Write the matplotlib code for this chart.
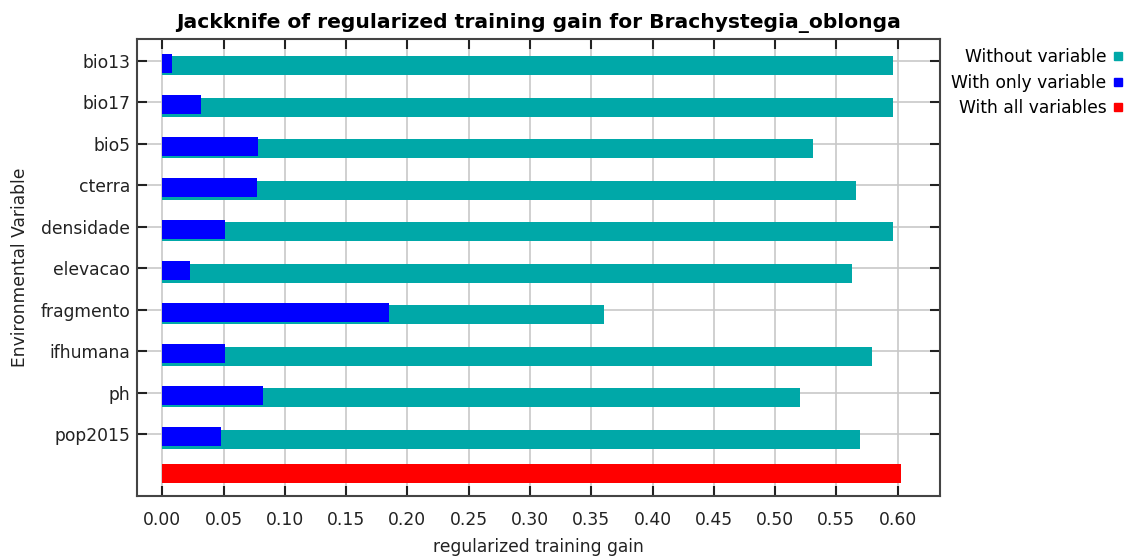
import matplotlib
matplotlib.use("Agg")
import matplotlib.pyplot as plt
from matplotlib.lines import Line2D
import numpy as np

plt.rcParams['font.family'] = ['DejaVu Sans']

variables = ['bio13', 'bio17', 'bio5', 'cterra', 'densidade', 'elevacao',
             'fragmento', 'ifhumana', 'ph', 'pop2015']
without_var = [0.596, 0.596, 0.531, 0.566, 0.596, 0.563, 0.360, 0.579, 0.520, 0.569]
only_var = [0.008, 0.032, 0.078, 0.077, 0.051, 0.023, 0.185, 0.051, 0.082, 0.048]
all_vars = 0.603

teal = '#00A8A8'
blue = '#0000FF'
red = '#FF0000'

fig = plt.figure(figsize=(11.27, 5.57), dpi=100)
ax = fig.add_axes([137/1127, 61/557, 803/1127, 457/557])

y = np.arange(len(variables))
h = 0.46
ax.barh(y + 0.12, without_var, height=h, color=teal, zorder=2)
ax.barh(y + 0.06, only_var, height=h, color=blue, zorder=3)
ax.barh([len(variables) - 0.05], [all_vars], height=h, color=red, zorder=2)

ax.set_xlim(-0.0206, 0.6345)
ax.set_ylim(10.49, -0.52)
ax.set_yticks(y)
ax.set_yticklabels(variables)
ax.set_xticks(np.arange(0, 0.601, 0.05))
ax.set_xticklabels(['%.2f' % v for v in np.arange(0, 0.601, 0.05)])

ax.grid(True, color='#c8c8c8', linewidth=1.2, zorder=0)
ax.set_axisbelow(True)
ax.tick_params(direction='in', length=7, width=1.5, colors='#222222',
               top=True, right=True, labelsize=12.3, labelcolor='#222222')
ax.tick_params(axis='x', pad=11)
ax.tick_params(axis='y', pad=5)
for s in ax.spines.values():
    s.set_color('#444444')
    s.set_linewidth(1.5)

ax.set_title('Jackknife of regularized training gain for Brachystegia_oblonga',
             fontsize=14.6, fontweight='bold', pad=8)
ax.set_xlabel('regularized training gain', fontsize=12.3, color='#222222', labelpad=6)
ax.set_ylabel('Environmental Variable', fontsize=12.3, color='#222222', labelpad=8)

handles = [Line2D([], [], marker='s', linestyle='none', color=c, markersize=6)
           for c in (teal, blue, red)]
fig.legend(handles, ['Without variable', 'With only variable', 'With all variables'],
           loc='upper right', bbox_to_anchor=(1 + 5/1127, 1 - 41/557),
           markerfirst=False, frameon=False, fontsize=12.3, handletextpad=0.3,
           labelspacing=0.45, handlelength=0.8, borderaxespad=0)

fig.savefig('out.png', dpi=100)
